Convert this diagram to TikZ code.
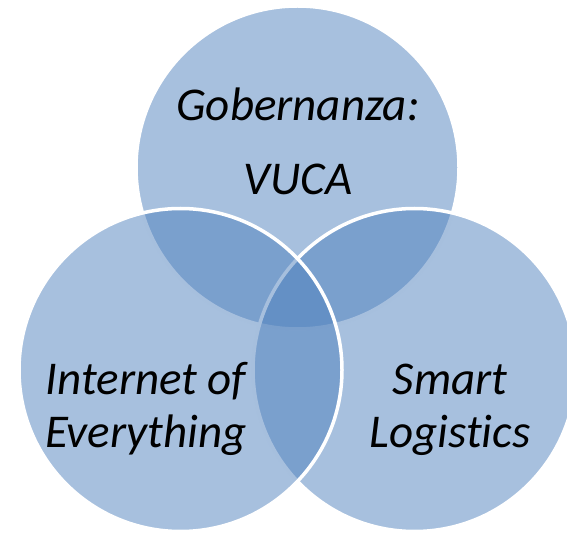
\documentclass[tikz,border=0pt]{standalone}
\usepackage{fontspec}
\setmainfont{Carlito}[Ligatures=NoCommon]
\definecolor{vennblue}{HTML}{4F81BD}
\tikzset{
    venn/.style={circle, draw=white, line width=3.5pt, fill=vennblue,
        fill opacity=0.5, minimum size=323pt, inner sep=0pt},
    lbl/.style={font=\fontsize{47}{53}\selectfont\itshape, align=center, anchor=base}
}
\begin{document}
\begin{tikzpicture}[x=1pt, y=1pt]
    \clip (0, 0) rectangle (567, 533);

    % drawing order matters: the outlines of earlier circles get tinted
    \node[venn] (gob) at (297.5, 365.5) {};
    \node[venn] (logi) at (414.5, 163) {};
    \node[venn] (ioe) at (180.5, 163) {};

    % labels (anchored on the last line)
    \node[lbl] (gobtext) at (298, 338) {Gobernanza:\\[21pt]VUCA};
    \node[lbl] (ioetext) at (146, 86) {Internet of\\Everything};
    \node[lbl] (logitext) at (450, 86) {Smart\\Logistics};
\end{tikzpicture}
\end{document}
